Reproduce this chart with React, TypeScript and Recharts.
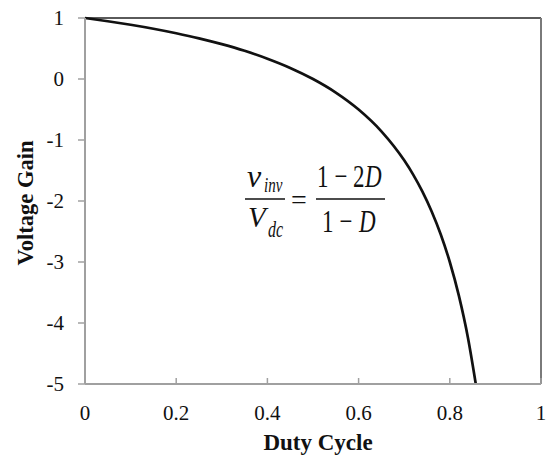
import React from "react";
import { LineChart, Line, XAxis, YAxis, ReferenceLine } from "recharts";

// Duty cycle (x) and the corresponding inverter voltage gain (y)
const dutyCycle = [0, 0.05, 0.1, 0.15, 0.2, 0.25, 0.3, 0.35, 0.4, 0.45, 0.5, 0.55, 0.6, 0.65, 0.7, 0.72, 0.74, 0.76, 0.78, 0.8, 0.82, 0.84, 0.857];
const voltageGain = [1, 0.947, 0.889, 0.824, 0.75, 0.667, 0.571, 0.462, 0.333, 0.182, 0, -0.222, -0.5, -0.857, -1.333, -1.571, -1.846, -2.167, -2.545, -3, -3.556, -4.25, -5];

const xTicks = [0, 0.2, 0.4, 0.6, 0.8, 1];
const yTicks = [-5, -4, -3, -2, -1, 0, 1];

const data = dutyCycle.map((d, i) => ({ d, g: voltageGain[i] }));

const SERIF = "'Liberation Serif', 'Times New Roman', serif";
const AXIS_GRAY = "#a0a0a0";
const INK = "#111";

// Bottom axis ticks point inward (upward) with labels below the axis line
const XTick = (props: any) => {
  const { x, y, payload } = props;
  return (
    <g>
      <line x1={x} y1={y} x2={x} y2={y - 6} stroke={AXIS_GRAY} strokeWidth={1.5} />
      <text x={x} y={y + 36} textAnchor="middle" style={{ fontFamily: SERIF, fontSize: 21, fill: INK }}>
        {String(payload.value)}
      </text>
    </g>
  );
};

const YTick = (props: any) => {
  const { x, y, payload } = props;
  return (
    <text x={x} y={y + 7} textAnchor="end" style={{ fontFamily: SERIF, fontSize: 21, fill: INK }}>
      {String(payload.value)}
    </text>
  );
};

// Equation glyphs are drawn narrow and tall (condensed math face)
const Tall = ({ x, y, size, italic, sy = 1.4, children }: any) => (
  <text
    transform={`translate(${x}, ${y}) scale(1, ${sy})`}
    fontSize={size}
    fontStyle={italic ? "italic" : "normal"}
  >
    {children}
  </text>
);

export default function App() {
  return (
    <div style={{ position: "fixed", left: 0, top: 0, width: 549, height: 461, background: "#fff" }}>
      <LineChart
        width={549}
        height={461}
        data={data}
        margin={{ top: 18, right: 8, bottom: 17, left: 0 }}
        style={{ overflow: "visible" }}
      >
        <XAxis
          dataKey="d"
          type="number"
          domain={[0, 1]}
          ticks={xTicks}
          interval={0}
          tickSize={0}
          tickMargin={0}
          tickLine={false}
          tick={<XTick />}
          axisLine={{ stroke: AXIS_GRAY, strokeWidth: 2 }}
          height={60}
        />
        <YAxis
          type="number"
          domain={[-5, 1]}
          ticks={yTicks}
          interval={0}
          tickSize={7}
          tickMargin={14}
          tickLine={{ stroke: AXIS_GRAY, strokeWidth: 1.5 }}
          tick={<YTick />}
          axisLine={{ stroke: AXIS_GRAY, strokeWidth: 2 }}
          width={85}
        />
        {/* plot frame: top and right edges */}
        <ReferenceLine y={1} stroke="#5a5a5a" strokeWidth={2} ifOverflow="visible" />
        <ReferenceLine x={1} stroke="#7a7a7a" strokeWidth={2} ifOverflow="visible" />
        <Line
          type="monotone"
          dataKey="g"
          stroke={INK}
          strokeWidth={2.7}
          dot={false}
          isAnimationActive={false}
        />
      </LineChart>

      {/* Axis titles and the gain equation */}
      <svg
        width={549}
        height={461}
        style={{ position: "absolute", left: 0, top: 0, pointerEvents: "none", overflow: "visible" }}
      >
        <text
          x={0}
          y={0}
          transform="translate(33, 203) rotate(-90)"
          textAnchor="middle"
          fontFamily={SERIF}
          fontWeight="bold"
          fontSize={22.5}
          fill={INK}
        >
          Voltage Gain
        </text>
        <text x={318} y={450} textAnchor="middle" fontFamily={SERIF} fontWeight="bold" fontSize={23} fill={INK}>
          Duty Cycle
        </text>

        <g fontFamily={SERIF} fill={INK}>
          {/* left fraction: v_inv / V_dc */}
          <Tall x={247} y={187} size={32} sy={1} italic>v</Tall>
          <Tall x={264} y={192} size={15} italic>inv</Tall>
          <line x1={245} y1={199} x2={285} y2={199} stroke={INK} strokeWidth={1.6} />
          <Tall x={248} y={227} size={29} sy={1} italic>V</Tall>
          <Tall x={268} y={237} size={16} italic>dc</Tall>
          {/* equals sign */}
          <text x={291} y={209} fontSize={28}>=</text>
          {/* right fraction: (1 − 2D) / (1 − D) */}
          <Tall x={317} y={187} size={23}>1 − 2</Tall>
          <Tall x={365} y={187} size={23} italic>D</Tall>
          <line x1={316} y1={199} x2={385} y2={199} stroke={INK} strokeWidth={1.6} />
          <Tall x={322} y={232} size={23}>1 −</Tall>
          <Tall x={359} y={232} size={23} italic>D</Tall>
        </g>
      </svg>
    </div>
  );
}
